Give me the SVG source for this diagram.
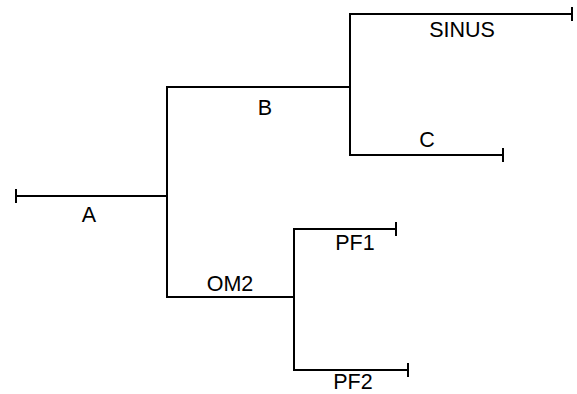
<svg xmlns="http://www.w3.org/2000/svg" width="577" height="394" viewBox="0 0 577 394">
<style>
.l{stroke:#000;stroke-width:2;fill:none;stroke-linecap:square}
.t{font-family:"Liberation Sans",Arial,sans-serif;font-size:21.5px;fill:#000;text-anchor:middle}
</style>
<rect width="577" height="394" fill="#fff"/>
<g id="connectors">
<path class="l" d="M167 87V297"/>
<path class="l" d="M350 14V155"/>
<path class="l" d="M294 229V370"/>
</g>
<g id="A"><path class="l" d="M16 196H167M16 190V202"/><text class="t" x="89" y="222">A</text></g>
<g id="B"><path class="l" d="M167 87H350"/><text class="t" x="265" y="115">B</text></g>
<g id="SINUS"><path class="l" d="M350 14H572M572 8V20"/><text class="t" x="462" y="37">SINUS</text></g>
<g id="C"><path class="l" d="M350 155H503M503 149V161"/><text class="t" x="427" y="147">C</text></g>
<g id="OM2"><path class="l" d="M167 297H294"/><text class="t" x="230" y="291">OM2</text></g>
<g id="PF1"><path class="l" d="M294 229H396M396 223V235"/><text class="t" x="355" y="250">PF1</text></g>
<g id="PF2"><path class="l" d="M294 370H408M408 364V376"/><text class="t" x="353" y="389">PF2</text></g>
</svg>
